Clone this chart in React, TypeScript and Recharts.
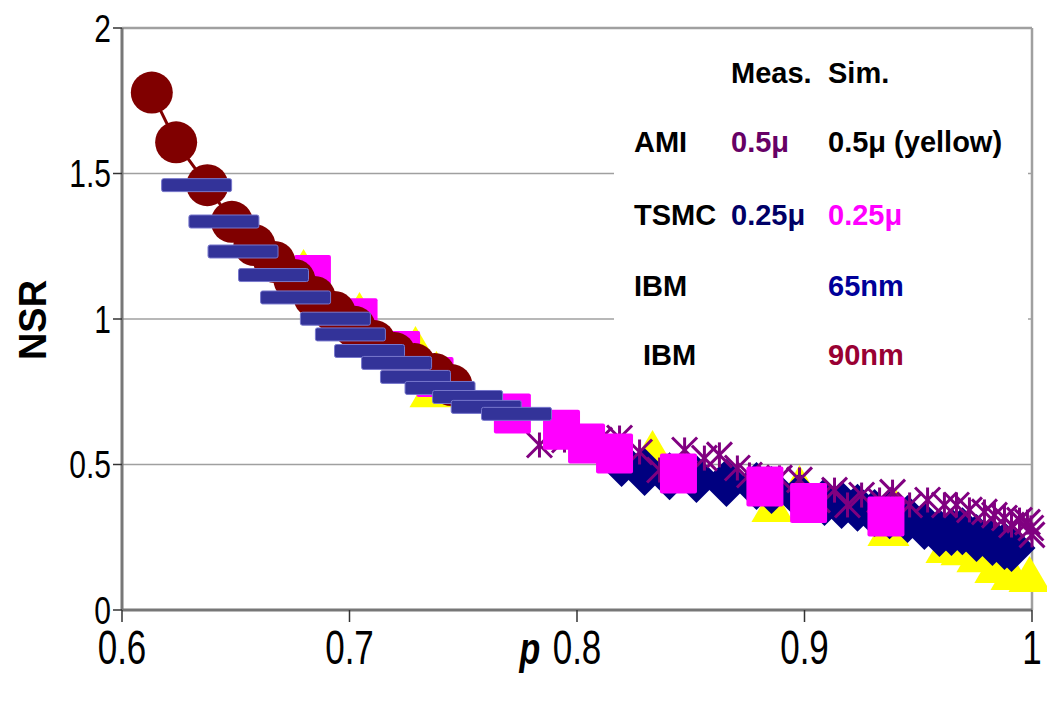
import React from "react";
import { ScatterChart, Scatter, XAxis, YAxis, CartesianGrid, ReferenceLine } from "recharts";

const FONT = '"Liberation Sans", Arial, sans-serif';

const X_TICKS = [0.6, 0.7, 0.8, 0.9, 1];
const Y_TICKS = [0, 0.5, 1, 1.5, 2];

// [p, NSR]
const ibm90Sim: [number, number][] = [
  [0.6131, 1.778], [0.6238, 1.607], [0.6375, 1.46], [0.6483, 1.334], [0.6582, 1.254],
  [0.667, 1.196], [0.6758, 1.134], [0.6846, 1.076], [0.6934, 1.024], [0.7022, 0.973],
  [0.711, 0.924], [0.7198, 0.883], [0.7286, 0.845], [0.7374, 0.811], [0.7448, 0.773],
];

const tsmcMeas: [number, number][] = [
  [0.6328, 1.46], [0.6448, 1.335], [0.6532, 1.232], [0.6666, 1.151], [0.6763, 1.074],
  [0.6938, 1.001], [0.7004, 0.947], [0.7088, 0.89], [0.7207, 0.849], [0.729, 0.801],
  [0.7398, 0.763], [0.7519, 0.732], [0.7601, 0.698], [0.7734, 0.674],
];

const tsmcSim: [number, number][] = [
  [0.6837, 1.151], [0.7042, 1.003], [0.7229, 0.89], [0.7376, 0.801], [0.7716, 0.675],
  [0.7932, 0.619], [0.8042, 0.572], [0.8165, 0.538], [0.8446, 0.469], [0.8826, 0.424],
  [0.9018, 0.368], [0.9358, 0.321],
];

const amiSim: [number, number][] = [
  [0.6798, 1.179], [0.7044, 1.031], [0.729, 0.914], [0.7356, 0.759], [0.7382, 0.828],
  [0.8332, 0.557], [0.8859, 0.364], [0.8978, 0.436], [0.9369, 0.282], [0.9404, 0.351],
  [0.9624, 0.223], [0.969, 0.216], [0.976, 0.192], [0.9839, 0.155], [0.991, 0.131],
  [0.9989, 0.124],
];

const ibm65Sim: [number, number][] = [
  [0.8196, 0.505], [0.8297, 0.474], [0.8407, 0.46], [0.8525, 0.45], [0.8657, 0.436],
  [0.8789, 0.426], [0.8855, 0.412], [0.8978, 0.388], [0.9088, 0.371], [0.9163, 0.361],
  [0.9233, 0.351], [0.9308, 0.333], [0.9374, 0.326], [0.9453, 0.313], [0.9527, 0.289],
  [0.9593, 0.265], [0.9646, 0.268], [0.9694, 0.271], [0.9756, 0.247], [0.9826, 0.234],
  [0.9879, 0.22], [0.991, 0.213],
];

const amiMeas: [number, number][] = [
  [0.7835, 0.567], [0.7945, 0.584], [0.8099, 0.584], [0.8187, 0.591], [0.8275, 0.543],
  [0.8363, 0.481], [0.8473, 0.55], [0.856, 0.522], [0.8626, 0.533], [0.8705, 0.488],
  [0.8758, 0.464], [0.8824, 0.402], [0.889, 0.454], [0.8978, 0.447], [0.9057, 0.378],
  [0.9132, 0.412], [0.9189, 0.361], [0.9251, 0.395], [0.933, 0.378], [0.9387, 0.405],
  [0.9462, 0.361], [0.9541, 0.378], [0.9615, 0.361], [0.9668, 0.361], [0.9725, 0.344],
  [0.9791, 0.337], [0.9835, 0.326], [0.9879, 0.316], [0.991, 0.292], [0.9945, 0.309],
  [0.998, 0.302], [0.9995, 0.282], [1.0, 0.258],
];

const toPoints = (arr: [number, number][]) => arr.map(([x, y]) => ({ x, y }));

// marker shapes (Excel-like)
const circleShape = (props: any) => <circle cx={props.cx} cy={props.cy} r={21} fill="#800000" />;

const barShape = (props: any) => (
  <rect x={props.cx - 35} y={props.cy - 6.5} width={70} height={13} rx={2}
    fill="#333399" stroke="#7777cc" strokeWidth={1} />
);

const squareShape = (props: any) => (
  <rect x={props.cx - 18.5} y={props.cy - 20} width={37} height={40} rx={2} fill="#ff00ff" />
);

const triangleShape = (props: any) => {
  const { cx, cy } = props;
  return <polygon points={`${cx},${cy - 18} ${cx - 21},${cy + 18} ${cx + 21},${cy + 18}`} fill="#ffff00" />;
};

const diamondShape = (props: any) => {
  const { cx, cy } = props;
  return <polygon points={`${cx},${cy - 24} ${cx + 24},${cy} ${cx},${cy + 24} ${cx - 24},${cy}`} fill="#000080" />;
};

const starShape = (props: any) => {
  const { cx, cy } = props;
  const h = 12.5;
  return (
    <g stroke="#800080" strokeWidth={3}>
      <line x1={cx - h} y1={cy - h} x2={cx + h} y2={cy + h} />
      <line x1={cx - h} y1={cy + h} x2={cx + h} y2={cy - h} />
      <line x1={cx} y1={cy - h} x2={cx} y2={cy + h} />
    </g>
  );
};

// tick labels in the original are drawn tall and narrow
const XTick = (props: any) => {
  const { x, y, payload } = props;
  const v = payload.value;
  const label = v === 1 ? "1" : v.toFixed(1);
  const base = y + 40;
  return (
    <g>
      <text transform={`translate(${x},${base}) scale(1,1.35)`} textAnchor="middle" fontSize={35}
        fontFamily={FONT} fill="#000">
        {label}
      </text>
      {v === 0.8 && (
        <text transform={`translate(${x - 47},${base}) scale(1,1.3)`} textAnchor="middle" fontSize={34}
          fontFamily={FONT} fontWeight="bold" fontStyle="italic" fill="#000">
          p
        </text>
      )}
    </g>
  );
};

const YTick = (props: any) => {
  const { x, y, payload } = props;
  return (
    <text transform={`translate(${x},${y + 13.5}) scale(1,1.27)`} textAnchor="end" fontSize={30}
      fontFamily={FONT} fill="#000">
      {String(payload.value)}
    </text>
  );
};

export default function App() {
  return (
    <div style={{ position: "absolute", left: 0, top: 0, width: 1047, height: 701, background: "#fff" }}>
      <ScatterChart width={1047} height={701} margin={{ top: 28, right: 15, bottom: 0, left: 0 }}>
        <CartesianGrid vertical={false} stroke="#a0a0a0" strokeWidth={1.5} />
        <XAxis
          type="number"
          dataKey="x"
          domain={[0.6, 1]}
          ticks={X_TICKS}
          height={91}
          axisLine={{ stroke: "#777", strokeWidth: 3 }}
          tickLine={{ stroke: "#333", strokeWidth: 1.5 }}
          tickSize={12}
          tick={<XTick />}
        />
        <YAxis
          type="number"
          dataKey="y"
          domain={[0, 2]}
          ticks={Y_TICKS}
          width={122}
          axisLine={{ stroke: "#777", strokeWidth: 3 }}
          tickLine={{ stroke: "#333", strokeWidth: 1.5 }}
          tickSize={9}
          tick={<YTick />}
        />
        <ReferenceLine y={2} stroke="#a0a0a0" strokeWidth={2.5} />
        <ReferenceLine x={1} stroke="#a0a0a0" strokeWidth={2.5} />
        <Scatter data={toPoints(amiSim)} shape={triangleShape} isAnimationActive={false} />
        <Scatter data={toPoints(ibm65Sim)} shape={diamondShape} isAnimationActive={false} />
        <Scatter data={toPoints(amiMeas)} shape={starShape} isAnimationActive={false} />
        <Scatter data={toPoints(tsmcSim)} shape={squareShape} isAnimationActive={false} />
        <Scatter
          data={toPoints(ibm90Sim)}
          shape={circleShape}
          line={{ stroke: "#800000", strokeWidth: 3 }}
          isAnimationActive={false}
        />
        <Scatter data={toPoints(tsmcMeas)} shape={barShape} isAnimationActive={false} />
      </ScatterChart>
      <svg width={1047} height={701} style={{ position: "absolute", left: 0, top: 0, pointerEvents: "none" }}>
        <text x={32} y={320} transform="rotate(-90 32 320)" dy={14} textAnchor="middle" fontSize={38}
          fontWeight="bold" fontFamily={FONT} fill="#000">
          NSR
        </text>
        <rect x={614} y={45} width={414} height={335} fill="#fff" />
        <g fontFamily={FONT} fontWeight="bold" fontSize={29} fill="#000">
          <text x={731} y={83}>Meas.</text>
          <text x={828} y={83}>Sim.</text>
          <text x={634} y={152}>AMI</text>
          <text x={731} y={152} fill="#660066">0.5μ</text>
          <text x={828} y={152}>0.5μ (yellow)</text>
          <text x={634} y={225}>TSMC</text>
          <text x={731} y={225} fill="#000066">0.25μ</text>
          <text x={828} y={225} fill="#ff00ff">0.25μ</text>
          <text x={634} y={296}>IBM</text>
          <text x={828} y={296} fill="#000099">65nm</text>
          <text x={643} y={365}>IBM</text>
          <text x={828} y={365} fill="#990033">90nm</text>
        </g>
      </svg>
    </div>
  );
}
